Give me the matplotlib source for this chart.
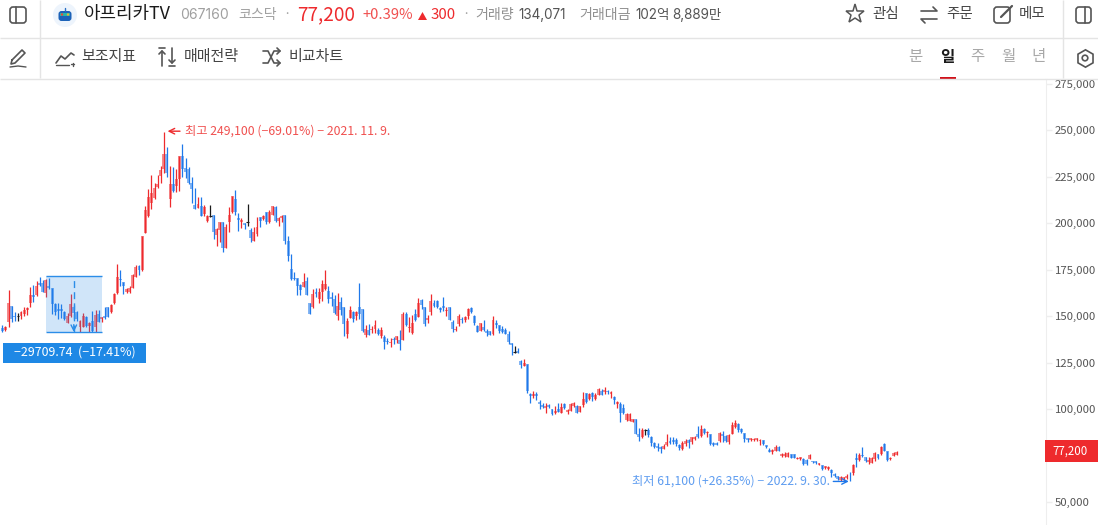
import numpy as np
import matplotlib
matplotlib.use('Agg')
import matplotlib.pyplot as plt
from matplotlib.patches import Rectangle, FancyBboxPatch, Circle, Polygon

plt.rcParams['font.family'] = ['Noto Sans CJK KR', 'DejaVu Sans']

# daily prices, in thousand won
highs = [145.3,144.7,164.1,155.5,152.4,151.9,153.0,154.8,155.1,165.9,
    166.8,169.0,171.3,169.5,169.8,170.4,165.0,157.3,157.3,156.6,
    153.0,151.5,162.0,156.0,153.0,148.0,151.9,150.1,147.1,153.0,
    153.3,153.3,149.8,155.1,155.1,156.4,162.3,177.9,174.9,168.6,
    165.0,166.3,172.5,177.6,177.6,193.2,209.3,218.3,226.0,221.5,
    226.0,231.0,249.1,241.2,230.8,230.5,229.2,236.2,242.7,235.0,
    230.5,224.7,218.8,214.0,214.3,209.9,204.5,209.9,204.5,197.3,
    200.9,200.9,199.6,208.6,214.7,217.9,205.4,202.7,200.3,210.4,
    197.3,198.2,203.6,203.6,204.5,206.3,207.2,209.5,209.3,203.6,
    204.5,204.5,193.2,183.5,174.0,170.4,167.4,173.1,170.9,157.1,
    164.7,165.0,165.2,169.5,174.9,166.3,162.9,161.4,162.5,160.4,
    155.0,148.9,155.5,152.6,152.8,167.9,154.1,145.3,145.8,144.8,
    148.0,143.7,144.4,139.9,138.3,138.3,138.8,139.4,142.6,152.3,
    152.3,149.6,150.7,153.9,159.8,159.3,155.0,150.7,162.0,158.7,
    158.7,155.0,160.4,155.0,155.0,148.0,144.8,151.2,149.6,150.1,
    154.4,155.0,150.7,145.3,146.4,148.0,143.1,142.1,150.1,148.0,
    145.3,144.8,143.7,142.1,135.6,134.0,132.9,126.5,127.0,124.3,
    108.7,109.8,109.2,104.9,103.3,103.3,102.8,100.2,101.7,103.1,
    103.1,103.1,100.1,103.1,103.7,102.2,101.9,109.4,108.9,108.5,
    109.4,108.5,111.2,110.7,111.7,110.3,109.8,107.1,104.6,103.7,
    102.8,97.7,97.7,94.9,94.9,89.7,89.7,89.1,89.7,85.7,
    82.5,81.6,80.2,81.2,86.6,84.8,84.8,84.3,81.2,83.1,
    83.9,83.9,85.2,85.6,90.9,91.5,89.7,88.4,86.4,82.5,
    82.5,87.9,88.4,86.1,86.4,93.3,94.2,92.4,89.7,87.0,
    84.7,84.7,84.7,84.7,83.8,83.4,80.7,78.9,78.4,80.5,
    80.2,76.2,76.8,76.9,75.9,75.7,74.1,74.1,73.5,73.0,
    75.9,72.3,72.3,71.2,69.9,69.6,69.4,67.6,65.5,64.0,
    64.0,63.7,65.1,66.4,70.5,76.6,76.2,79.4,74.4,74.1,
    74.4,77.1,75.9,80.2,81.6,77.7,74.4,77.1,77.3]
lows = [141.3,142.2,144.4,147.1,147.4,147.4,148.3,150.1,150.5,154.8,
    157.8,161.1,166.4,162.9,160.5,164.6,151.0,150.6,148.5,148.9,
    148.0,146.2,149.8,148.5,147.6,141.7,144.0,144.4,141.7,141.7,
    141.3,147.1,147.1,148.5,149.4,151.9,156.4,162.0,166.4,161.8,
    162.7,162.3,165.0,170.9,172.2,174.5,194.6,203.6,207.5,212.9,
    218.8,221.5,226.9,224.7,209.0,217.0,217.0,217.4,225.1,224.2,
    221.2,210.7,207.7,208.1,203.9,204.1,200.9,203.2,191.6,188.0,
    189.8,184.7,186.9,195.5,205.4,204.5,196.0,197.7,196.8,198.6,
    190.1,190.7,193.3,197.8,201.8,199.6,200.0,204.5,200.9,198.6,
    200.9,188.9,179.9,169.5,169.5,161.4,161.4,165.6,161.4,151.2,
    154.6,160.5,157.3,158.2,164.1,157.3,155.5,151.2,148.0,150.7,
    139.4,138.3,149.1,147.1,148.0,148.5,141.7,138.8,139.9,140.8,
    141.0,139.9,138.3,132.4,135.1,133.5,135.1,135.6,131.8,137.2,
    144.8,141.3,140.5,147.5,149.6,153.9,144.8,146.4,150.7,155.0,
    154.4,152.3,152.8,150.1,148.0,141.5,142.2,144.8,146.4,146.9,
    148.5,151.7,145.3,141.5,142.1,142.1,139.4,139.9,139.9,143.7,
    141.0,141.0,140.5,135.1,129.1,130.4,130.2,122.2,123.2,108.7,
    103.3,106.0,104.9,100.1,100.6,97.9,100.6,96.9,97.4,98.5,
    97.7,100.1,97.4,98.8,101.3,97.7,98.3,101.3,103.1,104.9,
    104.6,104.9,107.6,107.6,108.2,108.0,105.8,102.8,100.4,93.3,
    97.4,93.8,93.6,93.3,86.6,83.0,84.7,86.1,85.2,80.2,
    78.9,77.7,76.6,78.6,80.2,81.2,81.2,80.2,78.0,78.0,
    80.2,79.3,81.2,83.4,84.3,85.2,86.6,85.2,80.7,80.2,
    80.5,82.3,82.5,82.5,81.2,86.4,89.9,87.9,87.0,82.5,
    82.5,83.0,82.9,82.9,80.7,80.9,79.3,76.8,75.9,77.5,
    77.7,74.4,74.4,74.4,73.7,73.7,73.0,72.6,69.9,69.9,
    73.0,70.8,70.5,69.8,67.3,67.6,67.3,63.7,63.3,61.9,
    61.1,61.1,62.2,61.1,64.6,69.0,72.3,74.4,71.7,70.5,
    70.8,72.3,73.0,75.3,77.5,72.3,72.6,74.8,75.2]
opens = [143.5,142.6,147.1,155.5,150.3,150.1,150.3,151.2,153.4,157.0,
    161.4,161.4,168.1,168.1,162.3,166.4,165.0,156.6,153.9,153.9,
    152.4,146.5,150.3,155.1,152.4,144.0,144.4,149.8,144.9,147.4,
    144.0,151.0,148.3,150.3,154.8,152.4,157.3,162.3,169.8,168.2,
    163.2,163.2,165.4,171.3,177.0,174.9,194.6,204.1,210.7,213.4,
    219.7,225.5,229.2,237.3,213.1,221.0,220.3,223.8,236.2,229.6,
    229.4,221.5,209.9,208.1,209.5,205.0,201.4,203.9,204.5,193.7,
    196.4,200.9,186.9,200.9,206.3,213.1,203.0,200.5,200.0,200.7,
    196.4,190.7,194.1,203.6,202.1,205.9,200.5,204.5,209.0,201.4,
    203.1,204.5,190.5,175.4,170.4,170.4,166.8,165.9,169.0,157.1,
    155.2,163.1,159.3,163.1,164.5,163.6,160.2,159.1,150.3,157.7,
    155.0,140.5,149.2,152.3,150.3,155.0,154.1,140.1,142.6,142.6,
    143.1,142.6,139.6,138.8,136.7,135.4,137.8,137.2,137.2,137.2,
    151.2,143.7,141.0,151.2,149.6,158.7,155.0,148.0,152.3,157.1,
    158.2,154.4,155.5,152.8,155.0,146.9,142.6,145.8,148.5,148.0,
    150.1,154.4,150.1,144.8,142.1,144.2,142.1,142.1,140.5,146.4,
    145.3,143.1,142.6,140.5,135.6,130.6,131.3,125.9,123.4,124.3,
    108.2,107.1,108.2,103.8,102.2,100.6,102.2,99.9,98.1,99.9,
    98.1,102.8,98.3,99.2,101.9,101.9,98.6,102.2,108.5,105.3,
    108.9,105.5,107.6,109.9,109.4,109.8,108.2,106.4,102.8,102.8,
    100.4,94.2,93.6,93.3,94.5,86.6,84.8,88.6,88.8,85.2,
    82.0,80.2,79.5,78.6,80.7,82.9,83.4,83.4,80.7,78.4,
    81.2,83.4,82.5,83.9,86.6,85.6,89.3,87.0,86.4,81.6,
    82.0,82.7,86.6,85.7,82.5,86.6,90.2,92.0,89.1,87.0,
    84.3,83.4,83.4,83.4,83.0,83.4,80.5,78.0,77.1,77.7,
    79.8,74.8,74.8,74.4,75.7,75.7,73.2,73.0,73.0,72.6,
    73.3,72.3,71.9,70.1,69.8,68.2,67.8,67.3,65.1,64.0,
    61.9,62.2,62.8,63.7,65.8,73.5,72.6,75.3,74.1,71.7,
    71.2,73.0,75.7,75.9,81.3,77.7,73.0,74.8,75.3]
closes = [142.2,144.4,157.3,148.5,149.4,150.1,152.4,153.4,154.6,161.4,
    160.5,166.4,166.8,163.2,169.5,165.0,156.6,152.4,153.0,153.0,
    148.3,150.1,156.6,151.9,148.5,147.6,150.3,144.9,146.5,142.2,
    150.6,147.1,149.4,148.9,149.8,156.0,162.0,170.9,169.5,166.4,
    164.6,165.2,172.2,176.7,174.9,193.2,207.2,214.0,216.5,218.8,
    221.0,228.7,237.3,226.9,221.0,217.4,223.8,236.2,229.0,227.8,
    221.5,218.5,207.7,210.4,204.1,209.0,204.1,203.9,195.5,196.8,
    200.9,186.9,198.2,204.5,214.7,206.3,201.8,201.8,199.1,200.7,
    191.9,195.5,198.2,201.4,203.9,200.9,205.9,209.3,201.4,203.0,
    204.0,190.7,182.4,170.0,170.0,166.5,164.1,168.4,161.4,151.2,
    162.0,162.0,162.9,167.4,167.4,159.3,159.1,151.6,155.5,153.4,
    145.8,147.4,153.4,148.7,152.5,151.2,142.1,143.1,140.1,143.1,
    145.3,140.5,142.6,136.2,136.2,136.2,137.2,139.4,135.1,151.2,
    145.3,144.2,146.4,148.0,157.1,156.1,145.8,149.1,158.2,155.5,
    155.0,153.4,154.4,153.4,148.0,143.1,143.1,150.1,148.0,149.6,
    153.9,152.3,146.4,141.5,146.2,142.6,141.0,139.9,148.0,145.3,
    142.1,141.5,140.5,136.2,134.5,130.6,130.2,123.6,124.7,109.8,
    107.3,108.2,107.1,102.8,101.2,101.7,101.2,97.4,99.2,98.5,
    101.3,100.4,99.5,102.6,103.3,98.1,101.9,105.3,103.7,108.2,
    106.4,107.6,110.8,107.6,110.3,109.1,109.4,104.9,104.0,98.1,
    97.7,97.4,97.4,94.5,86.6,85.2,88.8,88.6,86.1,82.0,
    79.8,78.9,78.4,80.2,82.1,81.6,82.1,81.2,78.9,82.0,
    83.0,81.6,84.8,85.2,85.2,89.1,87.3,87.9,81.2,80.7,
    80.9,87.0,85.7,82.9,86.1,91.5,92.4,88.8,87.5,83.8,
    83.4,84.3,84.1,84.3,83.4,81.2,79.4,77.1,78.0,79.8,
    77.7,75.7,76.0,76.6,73.9,73.9,73.9,74.1,70.3,70.5,
    75.3,71.4,71.2,70.8,68.0,69.4,69.0,65.5,64.0,62.2,
    63.7,63.3,64.0,63.3,70.1,72.6,75.3,74.8,72.3,72.6,
    73.5,76.6,73.5,79.5,77.7,72.6,73.9,76.6,77.2]

price_ticks = [275000, 250000, 225000, 200000, 175000, 150000, 125000, 100000, 50000]
last_price = 77200
peak_idx, peak_price = 52, 249100
low_idx, low_price = 271, 61100
measure_start, measure_end = 14, 32
measure_top, measure_bottom = 171400, 141500

RED = '#ee2a2d'
BLUE = '#1f78ea'
INTER = ['Inter', 'Noto Sans CJK KR']

o = np.array(opens) * 1000
c = np.array(closes) * 1000
h = np.array(highs) * 1000
l = np.array(lows) * 1000
idx = np.arange(len(o))
cols = [RED if b > a else (BLUE if b < a else '#1a1a1a') for a, b in zip(o, c)]

fig = plt.figure(figsize=(10.98, 5.25), dpi=100)
fig.patch.set_facecolor('white')

# chart area: x 0..1046 px, y 79..525 px
ax = fig.add_axes([0, 0, 1046 / 1098, (525 - 79) / 525])
ax.set_xlim(-0.77, 336.1)
ax.set_ylim(37650, 277690)
for s in ['top', 'left', 'bottom']:
    ax.spines[s].set_visible(False)
ax.spines['right'].set_color('#eeeeee')
ax.set_xticks([])
ax.yaxis.tick_right()
ax.set_yticks(price_ticks)
ax.set_yticklabels(['{:,}'.format(v) for v in price_ticks], fontsize=8.2, color='#555555', ha='left')
ax.tick_params(axis='y', length=4, width=1, color='#eeeeee', pad=2.5)

ax.bar(idx, np.abs(c - o), bottom=np.minimum(o, c), width=0.95, color=cols, alpha=0.55, linewidth=0, zorder=2)
ax.vlines(idx, l, h, colors=cols, linewidth=0.9, zorder=3)
flat = o == c
ax.hlines(o[flat], idx[flat] - 0.45, idx[flat] + 0.45, colors='#1a1a1a', linewidth=0.8, zorder=3)

# measuring box
ax.add_patch(Rectangle((measure_start, measure_bottom), measure_end - measure_start,
                       measure_top - measure_bottom, facecolor='#2b8de8', alpha=0.22, linewidth=0, zorder=4))
ax.hlines([measure_top, measure_bottom], measure_start, measure_end, colors='#2b8de8', linewidth=1, zorder=5)
mid = (measure_start + measure_end) / 2
ax.vlines(mid, measure_bottom, measure_top, colors='#2b8de8', linewidth=1, linestyles=(0, (5, 3)), zorder=5)
ax.annotate('', xy=(mid, measure_bottom), xytext=(mid, measure_bottom + 4000),
            arrowprops=dict(arrowstyle='->', color='#2b8de8', lw=1, shrinkA=0, shrinkB=0), zorder=5)

# high / low notes
ax.annotate('최고 249,100 (−69.01%) − 2021. 11. 9.', xy=(peak_idx, peak_price), xytext=(21, 1),
            textcoords='offset pixels', va='center', fontsize=8.85, color='#f0504f')
ax.annotate('', xy=(peak_idx + 1.2, peak_price + 500), xytext=(peak_idx + 5.2, peak_price + 500),
            arrowprops=dict(arrowstyle='->', color=RED, lw=1, shrinkA=0, shrinkB=0))
ax.annotate('최저 61,100 (+26.35%) − 2022. 9. 30.', xy=(low_idx, low_price), xytext=(-14, 0),
            textcoords='offset pixels', va='center', ha='right', fontsize=8.8, color='#5f9df0')
ax.annotate('', xy=(low_idx + 1.6, low_price), xytext=(low_idx - 3.4, low_price),
            arrowprops=dict(arrowstyle='->', color=BLUE, lw=1, shrinkA=0, shrinkB=0), zorder=6)

# interface layer, in pixels
ui = fig.add_axes([0, 0, 1, 1])
ui.set_xlim(0, 1098)
ui.set_ylim(525, 0)
ui.axis('off')
ui.patch.set_alpha(0)


def label(x, y, s, size, color, weight='normal', ha='left', family=None):
    ui.text(x, y, s, fontsize=size * 0.72, color=color, fontweight=weight, ha=ha, va='center', family=family)


def stroke(xs, ys, color='#555555', lw=1.2):
    ui.plot(xs, ys, color=color, lw=lw, solid_capstyle='round', solid_joinstyle='round')


def rounded(x, y, w, h_, color='#555555', lw=1.2):
    ui.add_patch(FancyBboxPatch((x, y), w, h_, boxstyle='round,pad=0,rounding_size=3',
                                facecolor='none', edgecolor=color, linewidth=lw))


# dividers
ui.hlines([37.5, 78.5], 0, 1098, colors='#e4e4e4', linewidth=1)
ui.vlines([39.5, 1062.5], 0, 78, colors='#e4e4e4', linewidth=1)

# header row
rounded(10, 7, 16, 16)
stroke([16, 16], [7, 23])
rounded(1076, 7, 15, 16)
stroke([1085, 1085], [7, 23])

ui.add_patch(Circle((65, 15), 12, facecolor='#edf4fc', edgecolor='none'))
ui.add_patch(FancyBboxPatch((58.5, 11), 13, 10, boxstyle='round,pad=0,rounding_size=3',
                            facecolor='#1c62b8', edgecolor='none'))
stroke([65, 65], [8, 11], '#2a6fc4', 1)
ui.add_patch(Rectangle((60, 13), 10, 3, facecolor='#27b6a8', edgecolor='none'))
ui.add_patch(Circle((62, 14.5), 1.2, facecolor='#e8463c', edgecolor='none'))
ui.add_patch(Circle((68, 14.5), 1.2, facecolor='#f2b134', edgecolor='none'))

label(84, 14, '아프리카TV', 18, '#1a1a1a')
label(180, 15, '067160', 14, '#a0a0a0', family=INTER)
label(238, 15, '코스닥', 14, '#a0a0a0')
label(287, 15, '·', 13, '#a0a0a0', ha='center')
label(297, 15, '77,200', 19, RED)
label(362, 15, '+0.39%', 14.7, '#f0504f')
ui.add_patch(Polygon([[418, 20], [427, 20], [422.5, 12]], facecolor=RED, edgecolor='none'))
label(431, 15, '300', 15, RED)
label(466, 15, '·', 13, '#a0a0a0', ha='center')
label(475, 15, '거래량', 14, '#909090')
label(518, 15, '134,071', 13.5, '#555555', family=INTER)
label(579, 15, '거래대금', 14, '#909090')
label(635, 15, '102억', 13.5, '#555555', family=INTER)
label(672, 15, '8,889만', 13.5, '#555555', family=INTER)

ui.plot([855], [14], marker='*', markersize=14, markerfacecolor='none', markeredgecolor='#555555', markeredgewidth=1.1)
label(872, 14, '관심', 14.5, '#444444')
stroke([921, 937, 933], [11, 11, 7])
stroke([937, 921, 925], [19, 19, 23])
label(946, 14, '주문', 14.5, '#444444')
rounded(994, 7, 16, 16)
stroke([1001, 1012], [17, 6], '#555555', 1.6)
label(1019, 14, '메모', 14.5, '#444444')

# tool row
stroke([12, 22, 25, 15, 11, 12], [60, 50, 53, 63, 64, 60])
stroke([10, 18, 26], [67, 66, 67], '#555555', 1)
stroke([56, 61, 65, 71, 74], [63, 56, 59, 53, 55])
stroke([56, 69], [65, 65], '#555555', 1)
stroke([71, 74], [64, 64], '#555555', 1)
stroke([72.5, 72.5], [62.5, 65.5], '#555555', 1)
label(81, 57, '보조지표', 15, '#444444')
stroke([162, 162], [66, 51])
stroke([159, 162, 165], [54, 51, 54])
stroke([159, 165], [48, 48])
stroke([172, 172], [48, 63])
stroke([169, 172, 175], [60, 63, 60])
stroke([169, 175], [66, 66])
label(184, 57, '매매전략', 15, '#444444')
stroke([263, 268, 274, 280], [51, 51, 63, 63])
stroke([263, 268, 274, 280], [63, 63, 51, 51])
stroke([277, 280, 277], [48, 51, 54])
stroke([277, 280, 277], [60, 63, 66])
label(288, 57, '비교차트', 15, '#444444')

label(915, 57, '분', 15.5, '#a8a8a8', ha='center')
label(947, 57, '일', 15.5, '#1a1a1a', weight='bold', ha='center')
label(977.5, 57, '주', 15.5, '#a8a8a8', ha='center')
label(1008.5, 57, '월', 15.5, '#a8a8a8', ha='center')
label(1039, 57, '년', 15.5, '#a8a8a8', ha='center')
ui.add_patch(Rectangle((940, 77), 16, 2, facecolor='#d0121b', edgecolor='none'))

ui.plot([1085], [58], marker='h', markersize=12.5, markerfacecolor='none', markeredgecolor='#555555', markeredgewidth=1.2)
ui.add_patch(Circle((1085, 58), 2.8, facecolor='none', edgecolor='#555555', linewidth=1.2))

# result tag of the measuring box
ui.add_patch(Rectangle((3, 343), 143, 20, facecolor='#1e88e5', edgecolor='none'))
label(74.5, 352.5, '−29709.74  (−17.41%)', 12.4, 'white', weight='medium', ha='center')

# last price tag
ui.add_patch(Rectangle((1045, 440), 53, 22, facecolor=RED, edgecolor='none'))
label(1052, 451, '77,200', 11.5, 'white')

fig.savefig('out.png', dpi=100)
